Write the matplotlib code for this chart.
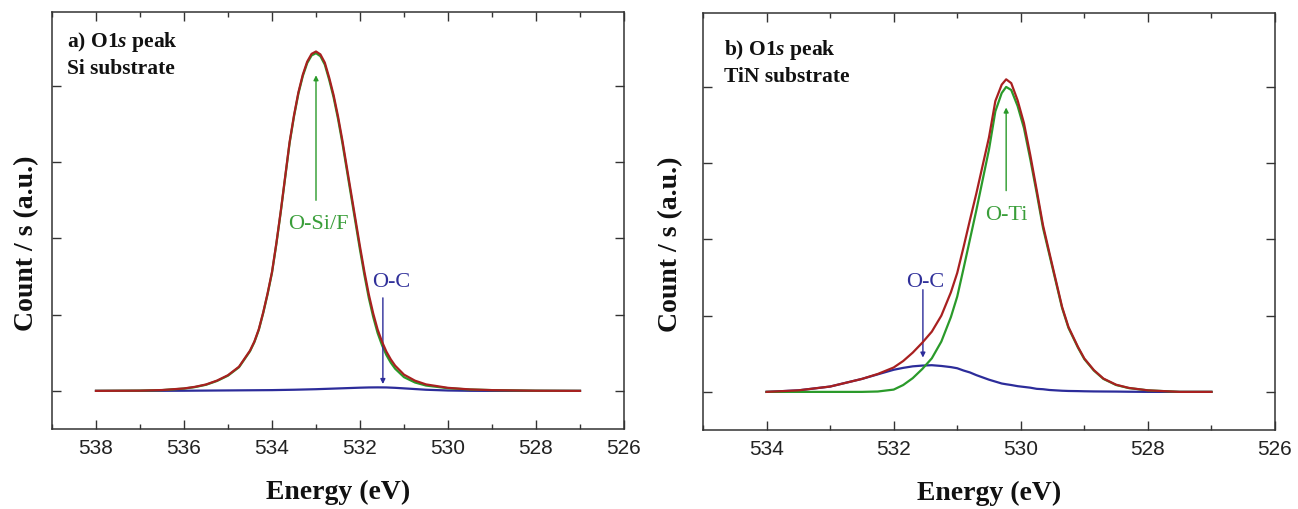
import matplotlib
matplotlib.use("Agg")
import matplotlib.pyplot as plt
from matplotlib.ticker import MultipleLocator, NullFormatter

# ---------------- data ----------------
# Panel a) Si substrate : O-Si/F component and fit envelope
energy_a = [538.0, 537.0, 536.5, 536.0, 535.75, 535.5, 535.25, 535.0, 534.75, 534.5,
            534.4, 534.3, 534.2, 534.1, 534.0, 533.9, 533.8, 533.7, 533.6, 533.5,
            533.4, 533.3, 533.2, 533.1, 533.0, 532.9, 532.8, 532.7, 532.6, 532.5,
            532.4, 532.3, 532.2, 532.1, 532.0, 531.9, 531.8, 531.7, 531.6, 531.5,
            531.4, 531.3, 531.2, 531.0, 530.75, 530.5, 530.0, 529.5, 529.0, 528.0, 527.0]
osi_a = [0.0, 0.003, 0.01, 0.03, 0.05, 0.08, 0.13, 0.20, 0.31, 0.52,
         0.64, 0.80, 1.02, 1.27, 1.55, 1.93, 2.35, 2.80, 3.25, 3.60,
         3.90, 4.13, 4.30, 4.40, 4.43, 4.39, 4.28, 4.08, 3.85, 3.57,
         3.25, 2.90, 2.55, 2.20, 1.85, 1.52, 1.22, 0.97, 0.76, 0.60,
         0.47, 0.37, 0.29, 0.18, 0.11, 0.07, 0.035, 0.018, 0.01, 0.002, 0.0]
env_a = [0.0, 0.003, 0.011, 0.032, 0.053, 0.084, 0.135, 0.206, 0.317, 0.528,
         0.648, 0.809, 1.029, 1.28, 1.56, 1.941, 2.362, 2.813, 3.264, 3.615,
         3.916, 4.148, 4.319, 4.421, 4.452, 4.414, 4.306, 4.108, 3.88, 3.602,
         3.284, 2.936, 2.588, 2.24, 1.892, 1.563, 1.265, 1.016, 0.806, 0.646,
         0.515, 0.413, 0.33, 0.213, 0.134, 0.085, 0.04, 0.019, 0.01, 0.002, 0.0]
# Panel a) O-C component
energy_oc_a = [538.0, 537.0, 536.0, 535.0, 534.0, 533.5, 533.0, 532.5, 532.0, 531.8,
               531.6, 531.4, 531.2, 531.0, 530.75, 530.5, 530.0, 529.5, 529.0, 528.0, 527.0]
oc_a = [0.0, 0.0, 0.002, 0.006, 0.010, 0.015, 0.022, 0.032, 0.042, 0.045,
        0.046, 0.045, 0.040, 0.033, 0.024, 0.015, 0.005, 0.001, 0.0, 0.0, 0.0]

# Panel b) TiN substrate
energy_b = [534.0, 533.5, 533.0, 532.75, 532.5, 532.25, 532.0, 531.85, 531.7, 531.55,
            531.4, 531.25, 531.1, 531.0, 530.9, 530.8, 530.7, 530.6, 530.5, 530.4,
            530.3, 530.23, 530.15, 530.05, 529.95, 529.85, 529.75, 529.65, 529.55, 529.45,
            529.35, 529.25, 529.1, 529.0, 528.85, 528.7, 528.5, 528.3, 528.0, 527.5, 527.0]
oti_b = [0.0, 0.0, 0.0, 0.0, 0.0, 0.005, 0.03, 0.09, 0.18, 0.30,
         0.44, 0.66, 0.98, 1.25, 1.62, 2.0, 2.38, 2.78, 3.18, 3.68,
         3.92, 4.00, 3.96, 3.75, 3.46, 3.05, 2.61, 2.15, 1.80, 1.45,
         1.10, 0.84, 0.58, 0.43, 0.28, 0.17, 0.09, 0.05, 0.02, 0.0, 0.0]
oc_b = [0.0, 0.02, 0.07, 0.12, 0.17, 0.23, 0.29, 0.315, 0.335, 0.345,
        0.35, 0.34, 0.325, 0.31, 0.28, 0.255, 0.22, 0.19, 0.16, 0.135,
        0.11, 0.10, 0.09, 0.075, 0.065, 0.055, 0.04, 0.035, 0.025, 0.02,
        0.015, 0.012, 0.01, 0.008, 0.006, 0.005, 0.004, 0.002, 0.0, 0.0, 0.0]
env_b = [0.0, 0.02, 0.07, 0.12, 0.17, 0.235, 0.32, 0.405, 0.515, 0.645,
         0.79, 1.0, 1.305, 1.56, 1.90, 2.255, 2.60, 2.97, 3.34, 3.815,
         4.03, 4.10, 4.05, 3.825, 3.525, 3.105, 2.65, 2.185, 1.825, 1.47,
         1.115, 0.852, 0.59, 0.438, 0.286, 0.175, 0.094, 0.052, 0.02, 0.0, 0.0]

xticks_a = [538, 536, 534, 532, 530, 528, 526]
xticks_b = [534, 532, 530, 528, 526]
title_line1 = ["a) O$\\mathit{1s}$ peak", "b) O$\\mathit{1s}$ peak"]
title_line2 = ["Si substrate", "TiN substrate"]

# ---------------- style ----------------
plt.rcParams['mathtext.fontset'] = 'custom'
plt.rcParams['mathtext.it'] = 'Liberation Serif:bold:italic'
plt.rcParams['mathtext.rm'] = 'Liberation Serif:bold'

GREEN = '#2a9a2a'
BLUE = '#2c2c9a'
RED = '#a82020'
GREEN_T = '#3a9e3a'
BLUE_T = '#30309a'

fig = plt.figure(figsize=(12.98, 5.09), dpi=100)
ax_a = fig.add_axes([52 / 1298, 1 - 429 / 509, 572 / 1298, 417 / 509])
ax_b = fig.add_axes([703 / 1298, 1 - 430 / 509, 572 / 1298, 417 / 509])

def style(ax, xlim, xticks, ylab_x):
    ax.set_xlim(*xlim)
    ax.set_ylim(-0.5, 4.97)
    ax.set_xticks(xticks)
    ax.xaxis.set_minor_locator(MultipleLocator(1))
    ax.set_yticks([0, 1, 2, 3, 4])
    ax.yaxis.set_major_formatter(NullFormatter())
    ax.tick_params(axis='x', which='major', direction='in', length=6.5, width=1,
                   top=True, labelsize=15, pad=7, color='#333333')
    ax.tick_params(axis='x', which='minor', direction='in', length=3.4, width=1,
                   top=True, color='#333333')
    ax.tick_params(axis='y', which='major', direction='in', length=6.5, width=1,
                   right=True, color='#333333')
    for lab in ax.get_xticklabels():
        lab.set_fontfamily('Liberation Sans')
        lab.set_color('#222222')
    for s in ax.spines.values():
        s.set_linewidth(1.1)
        s.set_color('#333333')
    ax.set_xlabel('Energy (eV)', fontfamily='Liberation Serif', fontweight='bold',
                  fontsize=20, color='#111111')
    ax.xaxis.set_label_coords(0.5, -0.122)
    ax.set_ylabel('Count / s (a.u.)', fontfamily='Liberation Serif', fontweight='bold',
                  fontsize=20, color='#111111', va='center')
    ax.yaxis.set_label_coords(ylab_x, 0.445)

style(ax_a, (539, 526), xticks_a, -0.045)
style(ax_b, (535, 526), xticks_b, -0.056)

for ax, e, g, r, eb, b in [(ax_a, energy_a, osi_a, env_a, energy_oc_a, oc_a),
                           (ax_b, energy_b, oti_b, env_b, energy_b, oc_b)]:
    ax.plot(eb, b, color=BLUE, lw=1.6, zorder=2, solid_joinstyle='round')
    ax.plot(e, g, color=GREEN, lw=1.6, zorder=3, solid_joinstyle='round')
    ax.plot(e, r, color=RED, lw=1.6, zorder=4, solid_joinstyle='round')

# panel texts (two lines each)
txt_kw = dict(fontfamily='Liberation Serif', fontweight='bold', fontsize=15.5,
              ha='left', va='baseline', color='#111111')
ax_a.text(0.026, (429 - 47) / 417, title_line1[0], transform=ax_a.transAxes, **txt_kw)
ax_a.text(0.026, (429 - 74) / 417, title_line2[0], transform=ax_a.transAxes, **txt_kw)
ax_b.text(0.037, (430 - 55) / 417, title_line1[1], transform=ax_b.transAxes, **txt_kw)
ax_b.text(0.037, (430 - 82) / 417, title_line2[1], transform=ax_b.transAxes, **txt_kw)

arrow_kw = dict(arrowstyle='-|>', lw=1.0, mutation_scale=7, shrinkA=0, shrinkB=0)
lab_kw = dict(fontfamily='Liberation Serif', fontsize=16, ha='center', va='baseline')

# panel a annotations
ax_a.annotate('', xy=(533.0, 4.14), xytext=(533.0, 2.50),
              arrowprops=dict(color=GREEN, **arrow_kw))
ax_a.text(532.95, 2.13, 'O-Si/F', color=GREEN_T, **lab_kw)
ax_a.annotate('', xy=(531.48, 0.09), xytext=(531.48, 1.22),
              arrowprops=dict(color=BLUE, **arrow_kw))
ax_a.text(531.28, 1.36, 'O-C', color=BLUE_T, **lab_kw)

# panel b annotations
ax_b.annotate('', xy=(530.23, 3.73), xytext=(530.23, 2.64),
              arrowprops=dict(color=GREEN, **arrow_kw))
ax_b.text(530.22, 2.26, 'O-Ti', color=GREEN_T, **lab_kw)
ax_b.annotate('', xy=(531.54, 0.45), xytext=(531.54, 1.34),
              arrowprops=dict(color=BLUE, **arrow_kw))
ax_b.text(531.5, 1.38, 'O-C', color=BLUE_T, **lab_kw)

fig.savefig('out.png', dpi=100)
